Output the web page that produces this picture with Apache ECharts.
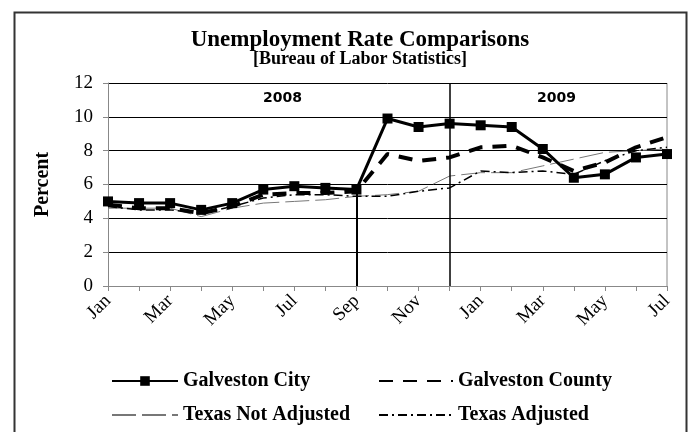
<!DOCTYPE html>
<html>
<head>
<meta charset="utf-8">
<script src="https://cdn.jsdelivr.net/npm/echarts@6/dist/echarts.min.js"></script>
<style>
  html, body { margin: 0; padding: 0; background: #fff; }
  #chart { width: 688px; height: 432px; }
</style>
</head>
<body>
<div id="chart"></div>
<script>
// Jan 2008 .. Jul 2009
var months = ['Jan','Feb','Mar','Apr','May','Jun','Jul','Aug','Sep','Oct','Nov','Dec',
              'Jan','Feb','Mar','Apr','May','Jun','Jul'];
var yearLabels = ['2008', '2009'];

var galvestonCity   = [5.0, 4.9, 4.9, 4.5, 4.9, 5.7, 5.9, 5.8, 5.7, 9.9, 9.4, 9.6, 9.5, 9.4, 8.1, 6.4, 6.6, 7.6, 7.8];
var galvestonCounty = [4.8, 4.6, 4.6, 4.3, 4.7, 5.4, 5.5, 5.5, 5.6, 7.8, 7.4, 7.6, 8.2, 8.3, 7.6, 6.8, 7.3, 8.2, 8.8];
var texasNotAdj     = [4.6, 4.6, 4.6, 4.1, 4.6, 4.9, 5.0, 5.1, 5.3, 5.4, 5.6, 6.5, 6.7, 6.7, 7.1, 7.5, 7.9, 8.0, 8.1];
var texasAdj        = [4.7, 4.5, 4.5, 4.3, 4.7, 5.2, 5.4, 5.4, 5.3, 5.3, 5.6, 5.8, 6.8, 6.7, 6.8, 6.6, 7.4, 8.0, 8.2];

var serif = '"Liberation Serif", "Times New Roman", serif';
var legendText = { fontFamily: serif, fontWeight: 'bold', fontSize: 20, color: '#000' };
var noMarker = { opacity: 0 };

var myChart = echarts.init(document.getElementById('chart'));

myChart.setOption({
  animation: false,
  title: {
    text: 'Unemployment Rate Comparisons',
    subtext: '[Bureau of Labor Statistics]',
    left: 355,
    textAlign: 'center',
    top: 24,
    itemGap: -2,
    textStyle: { fontFamily: serif, fontWeight: 'bold', fontSize: 23, color: '#000' },
    subtextStyle: { fontFamily: serif, fontWeight: 'bold', fontSize: 18, color: '#000' }
  },
  legend: [{
    data: ['Galveston City', { name: 'Texas Not Adjusted', itemStyle: noMarker }],
    orient: 'vertical',
    left: 111,
    top: 371,
    padding: 0,
    itemWidth: 66,
    itemHeight: 12,
    itemGap: 14,
    textStyle: legendText
  }, {
    data: [{ name: 'Galveston County', itemStyle: noMarker }, { name: 'Texas Adjusted', itemStyle: noMarker }],
    orient: 'vertical',
    left: 378,
    top: 371,
    padding: 0,
    itemWidth: 74,
    itemHeight: 12,
    itemGap: 14,
    textStyle: legendText
  }],
  grid: { left: 108, right: 21, top: 83, bottom: 146 },
  xAxis: {
    type: 'category',
    data: months,
    boundaryGap: false,
    axisLine: { lineStyle: { color: '#888', width: 1 } },
    axisTick: { show: true, interval: 0, length: 5, lineStyle: { color: '#888' } },
    axisLabel: {
      interval: 1,
      rotate: 45,
      margin: 12,
      fontFamily: serif,
      fontSize: 19,
      color: '#000'
    },
    splitLine: { show: false }
  },
  yAxis: {
    type: 'value',
    min: 0,
    max: 12,
    interval: 2,
    name: 'Percent',
    nameLocation: 'middle',
    nameGap: 55,
    nameTextStyle: { fontFamily: serif, fontWeight: 'bold', fontSize: 20, color: '#000' },
    axisLine: { show: true, lineStyle: { color: '#888' } },
    axisTick: { show: true, length: 5, lineStyle: { color: '#888' } },
    axisLabel: { margin: 15, fontFamily: serif, fontSize: 19, color: '#000' },
    splitLine: { lineStyle: { color: '#000', width: 1 } }
  },
  graphic: [
    { type: 'rect', left: 12, top: 10, shape: { width: 672, height: 440 },
      style: { fill: 'none', stroke: '#333', lineWidth: 2 }, silent: true },
    { type: 'line', shape: { x1: 667, y1: 83, x2: 667, y2: 286 },
      style: { stroke: '#888', lineWidth: 1 }, silent: true },
    { type: 'text', left: 0, top: -18,
      style: { text: 'g', font: '18px "Liberation Serif", serif', fill: '#000' } },
    { type: 'text', left: 263, top: 91,
      style: { text: yearLabels[0], font: 'bold 14px "DejaVu Sans", sans-serif', fill: '#000' } },
    { type: 'text', left: 537, top: 91,
      style: { text: yearLabels[1], font: 'bold 14px "DejaVu Sans", sans-serif', fill: '#000' } }
  ],
  series: [{
    name: 'Galveston City',
    type: 'line',
    data: galvestonCity,
    symbol: 'rect',
    symbolSize: 10,
    itemStyle: { color: '#000' },
    lineStyle: { color: '#000', width: 3 },
    z: 5,
    markLine: {
      silent: true,
      symbol: 'none',
      label: { show: false },
      lineStyle: { color: '#000', width: 2, type: 'solid' },
      data: [
        [{ coord: [8, 0] }, { coord: [8, galvestonCity[8]] }],
        [{ coord: [11, 0] }, { coord: [11, 12], lineStyle: { width: 1.5 } }]
      ]
    }
  }, {
    name: 'Galveston County',
    type: 'line',
    data: galvestonCounty,
    symbol: 'none',
    itemStyle: { color: '#000' },
    lineStyle: { color: '#000', width: 4, type: [14, 10] },
    z: 4
  }, {
    name: 'Texas Not Adjusted',
    type: 'line',
    data: texasNotAdj,
    symbol: 'none',
    itemStyle: { color: '#777' },
    lineStyle: { color: '#777', width: 1, type: [24, 6] },
    z: 3
  }, {
    name: 'Texas Adjusted',
    type: 'line',
    data: texasAdj,
    symbol: 'none',
    itemStyle: { color: '#000' },
    lineStyle: { color: '#000', width: 1.5, type: [9, 4, 2, 4] },
    z: 3
  }]
});
</script>
</body>
</html>
